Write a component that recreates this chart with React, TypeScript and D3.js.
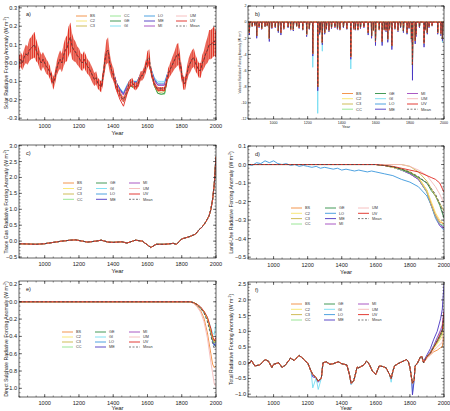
import React from "react";
import * as d3 from "d3";

type Pt = [number, number];

const FONT = "Liberation Sans, Arial, Helvetica, sans-serif";
const YEAR0 = 850;
const YEAR1 = 2000;

const modelColors: Record<string, string> = {
  BS: "#f28a3a",
  C2: "#f7e46b",
  C3: "#c9b646",
  CC: "#8ee38a",
  GE: "#2f8f45",
  GI: "#75dcf2",
  LO: "#3b97dd",
  ME: "#4a36c2",
  MI: "#a046bd",
  UM: "#f5b9b9",
  UV: "#e0271f",
  Mean: "#444444",
};

// ---- a) solar forcing: decadal mean, 11-yr cycle half-range, model spread over the grand minima
const solarYears = d3.range(850, 2001, 10);
const solarMean = [
  0.0, 0.02, 0.0, 0.03, 0.05,
  0.04, 0.07, 0.08, 0.09, 0.1, 0.07, 0.05, 0.02, 0.0, 0.02,
  0.0, -0.02, -0.03, -0.05, -0.08, -0.11, -0.08, -0.03, 0.0, 0.02,
  0.0, 0.04, 0.07, 0.08, 0.12, 0.14, 0.09, 0.07, 0.06, 0.04,
  0.03, 0.01, 0.0, 0.02, 0.0, -0.02, -0.03, -0.05, -0.07, -0.09,
  -0.08, -0.11, -0.12, -0.13, -0.08, 0.0, 0.06, 0.07, 0.0, -0.04,
  -0.06, -0.1, -0.13, -0.15, -0.17, -0.19, -0.2, -0.18, -0.15, -0.12,
  -0.11, -0.1, -0.12, -0.13, -0.12, -0.1, -0.07, -0.07, -0.05, -0.02,
  0.02, 0.03, -0.04, -0.08, -0.11, -0.13, -0.14, -0.14, -0.14, -0.14,
  -0.14, -0.11, -0.06, -0.04, -0.02, 0.0, 0.02, 0.04, 0.05, 0.0,
  -0.06, -0.11, -0.11, -0.06, -0.02, 0.0, 0.02, 0.03, 0.0, -0.02,
  -0.04, -0.04, 0.0, 0.02, 0.05, 0.07, 0.1, 0.1, 0.11, 0.12,
  0.1,
];
const solarCycle = [
  0.04, 0.04, 0.04, 0.045, 0.05,
  0.05, 0.06, 0.06, 0.065, 0.07, 0.06, 0.05, 0.05, 0.045, 0.04,
  0.04, 0.04, 0.035, 0.035, 0.03, 0.035, 0.035, 0.04, 0.045, 0.05,
  0.05, 0.06, 0.065, 0.07, 0.08, 0.08, 0.07, 0.06, 0.055, 0.05,
  0.05, 0.045, 0.045, 0.045, 0.045, 0.04, 0.04, 0.04, 0.04, 0.035,
  0.035, 0.03, 0.03, 0.03, 0.04, 0.05, 0.065, 0.07, 0.05, 0.04,
  0.035, 0.03, 0.025, 0.02, 0.02, 0.015, 0.015, 0.015, 0.02, 0.02,
  0.02, 0.02, 0.02, 0.02, 0.02, 0.025, 0.025, 0.025, 0.03, 0.035,
  0.045, 0.045, 0.03, 0.02, 0.015, 0.01, 0.01, 0.01, 0.01, 0.01,
  0.01, 0.02, 0.03, 0.035, 0.04, 0.045, 0.05, 0.06, 0.06, 0.05,
  0.04, 0.035, 0.035, 0.04, 0.045, 0.05, 0.05, 0.05, 0.045, 0.04,
  0.04, 0.04, 0.045, 0.05, 0.06, 0.07, 0.08, 0.08, 0.08, 0.08,
  0.07,
];
const solarSpreadYears = [1400, 1420, 1440, 1460, 1480, 1500, 1520, 1540, 1560, 1580, 1600, 1620, 1640, 1660, 1680, 1700, 1720, 1740];
const solarSpread: Record<string, number[]> = {
  GI: [-0.05, -0.11, -0.14, -0.16, -0.12, -0.09, -0.1, -0.1, -0.06, -0.04, 0.02, -0.03, -0.08, -0.1, -0.1, -0.1, -0.05, -0.02],
  LO: [-0.05, -0.11, -0.14, -0.165, -0.125, -0.09, -0.1, -0.1, -0.06, -0.04, 0.02, -0.03, -0.085, -0.11, -0.11, -0.11, -0.05, -0.02],
  ME: [-0.05, -0.11, -0.145, -0.17, -0.13, -0.095, -0.105, -0.105, -0.06, -0.04, 0.02, -0.035, -0.09, -0.12, -0.12, -0.12, -0.05, -0.02],
  MI: [-0.055, -0.115, -0.15, -0.175, -0.13, -0.1, -0.11, -0.11, -0.065, -0.045, 0.02, -0.035, -0.095, -0.12, -0.12, -0.12, -0.055, -0.02],
  UM: [-0.06, -0.125, -0.165, -0.19, -0.145, -0.105, -0.115, -0.115, -0.07, -0.05, 0.02, -0.04, -0.105, -0.135, -0.14, -0.135, -0.06, -0.02],
  C2: [-0.06, -0.125, -0.165, -0.19, -0.145, -0.11, -0.12, -0.12, -0.07, -0.05, 0.02, -0.04, -0.11, -0.14, -0.14, -0.14, -0.06, -0.02],
  BS: [-0.065, -0.13, -0.175, -0.2, -0.15, -0.11, -0.12, -0.12, -0.07, -0.05, 0.02, -0.04, -0.11, -0.14, -0.14, -0.14, -0.06, -0.02],
  C3: [-0.065, -0.13, -0.175, -0.2, -0.155, -0.12, -0.13, -0.13, -0.075, -0.055, 0.02, -0.045, -0.12, -0.155, -0.16, -0.155, -0.065, -0.02],
  GE: [-0.065, -0.135, -0.18, -0.21, -0.16, -0.125, -0.135, -0.135, -0.08, -0.055, 0.02, -0.045, -0.125, -0.165, -0.17, -0.165, -0.07, -0.02],
  CC: [-0.065, -0.135, -0.18, -0.21, -0.16, -0.125, -0.135, -0.135, -0.08, -0.055, 0.02, -0.045, -0.125, -0.165, -0.17, -0.17, -0.07, -0.02],
  UV: [-0.07, -0.15, -0.2, -0.235, -0.17, -0.12, -0.13, -0.13, -0.075, -0.05, 0.02, -0.045, -0.12, -0.15, -0.15, -0.15, -0.065, -0.02],
};

// ---- b) volcanic forcing: eruption years and peak forcing (W m-2)
const eruptionYears = [
  858, 875, 890, 901, 915, 930, 950, 963, 975, 990, 1010, 1028, 1043, 1060, 1085, 1100, 1116, 1135, 1150, 1171,
  1194, 1210, 1230, 1259, 1270, 1276, 1286, 1300, 1310, 1325, 1340, 1360, 1375, 1389, 1410, 1430, 1453, 1470,
  1480, 1495, 1510, 1530, 1555, 1575, 1586, 1598, 1620, 1637, 1650, 1660, 1670, 1680, 1694, 1712, 1730, 1745,
  1762, 1783, 1795, 1809, 1815, 1831, 1836, 1856, 1883, 1890, 1902, 1912, 1930, 1963, 1982, 1991,
];
const eruptionMean = [
  -1.3, -0.5, -0.4, -1.7, -0.6, -0.8, -0.5, -0.4, -2.0, -0.7, -0.6, -1.1, -1.3, -0.8, -0.6, -0.9, -0.9, -0.5, -0.7, -0.9,
  -1.5, -0.8, -3.9, -8.0, -1.3, -1.0, -2.5, -1.3, -0.8, -1.0, -0.7, -0.6, -0.8, -0.9, -0.6, -0.8, -4.3, -0.8,
  -0.9, -0.9, -0.7, -0.6, -1.3, -1.7, -1.0, -2.4, -0.9, -2.4, -0.9, -1.0, -2.1, -0.9, -2.9, -0.8, -1.0, -0.6,
  -1.1, -1.3, -0.7, -2.1, -5.3, -2.3, -1.5, -0.6, -2.6, -0.9, -1.3, -0.6, -0.4, -1.3, -1.4, -2.0,
];
const eruptionME = [
  -1.6, -0.6, -0.5, -2.0, -0.7, -0.9, -0.6, -0.5, -2.4, -0.8, -0.7, -1.3, -1.6, -0.9, -0.7, -1.0, -1.1, -0.6, -0.8, -1.0,
  -1.8, -0.9, -4.2, -8.5, -1.5, -1.2, -2.8, -1.5, -0.9, -1.2, -0.8, -0.7, -0.9, -1.0, -0.7, -0.9, -4.6, -0.9,
  -1.0, -1.0, -0.8, -0.7, -1.6, -2.0, -1.1, -2.9, -1.0, -2.9, -1.0, -1.2, -2.5, -1.0, -3.4, -0.9, -1.2, -0.7,
  -1.3, -1.5, -0.8, -2.5, -7.2, -2.7, -1.8, -0.7, -3.1, -1.0, -1.5, -0.7, -0.5, -1.5, -1.7, -2.3,
];
const eruptionGI = [
  -1.4, -0.5, -0.4, -1.8, -0.6, -0.8, -0.5, -0.4, -2.1, -0.7, -0.6, -1.2, -1.4, -0.8, -0.6, -0.9, -1.0, -0.5, -0.7, -0.9,
  -1.6, -0.8, -5.6, -11.3, -1.6, -1.1, -3.6, -1.4, -0.8, -1.0, -0.7, -0.6, -0.8, -0.9, -0.6, -0.8, -5.8, -0.8,
  -0.9, -0.9, -0.7, -0.6, -1.4, -1.8, -1.0, -2.6, -0.9, -2.6, -0.9, -1.1, -2.3, -0.9, -3.1, -0.8, -1.0, -0.6,
  -1.2, -1.4, -0.7, -2.3, -6.5, -2.5, -1.6, -0.6, -2.8, -0.9, -1.4, -0.6, -0.4, -1.4, -1.5, -2.5,
];

// ---- c) trace gas forcing (all reconstructions share it)
const ghgYears = [850, 900, 950, 1000, 1050, 1100, 1150, 1180, 1220, 1250, 1300, 1330, 1370, 1400, 1450, 1480, 1530, 1570, 1600, 1620, 1650, 1700, 1750, 1770, 1800, 1820, 1850, 1880, 1900, 1920, 1940, 1950, 1960, 1970, 1980, 1990, 2000];
const ghgValues = [-0.08, -0.09, -0.1, -0.08, -0.04, 0.0, 0.03, 0.04, 0.0, -0.03, 0.0, 0.03, -0.03, -0.04, -0.02, -0.06, 0.03, 0.0, -0.12, -0.2, -0.1, -0.1, -0.07, -0.1, 0.07, 0.1, 0.15, 0.22, 0.35, 0.45, 0.6, 0.7, 0.8, 1.0, 1.3, 1.8, 2.65];

// ---- d) land-use forcing
const landLOYears = d3.range(850, 1576, 25);
const landLOEarly = [0.0, -0.005, 0.01, 0.005, 0.02, 0.01, 0.02, 0.005, 0.0, 0.005, -0.005, 0.0, -0.01, -0.005, -0.01, -0.015, -0.01, -0.02, -0.015, -0.02, -0.025, -0.02, -0.03, -0.025, -0.03, -0.035, -0.03, -0.035, -0.04, -0.035];
const landYears = [1600, 1650, 1700, 1750, 1800, 1850, 1900, 1925, 1950, 1975, 2000];
const landByModel: Record<string, number[]> = {
  BS: [0, -0.005, -0.015, -0.025, -0.04, -0.07, -0.14, -0.21, -0.27, -0.31, -0.32],
  C2: [0, -0.005, -0.015, -0.025, -0.04, -0.07, -0.14, -0.2, -0.26, -0.3, -0.32],
  C3: [0, 0, 0, 0, -0.01, -0.04, -0.09, -0.13, -0.17, -0.21, -0.25],
  CC: [0, -0.005, -0.015, -0.03, -0.045, -0.075, -0.15, -0.22, -0.28, -0.32, -0.33],
  GE: [0, -0.005, -0.012, -0.025, -0.045, -0.07, -0.1, -0.14, -0.17, -0.22, -0.29],
  LO: [-0.04, -0.05, -0.06, -0.08, -0.095, -0.12, -0.17, -0.22, -0.29, -0.33, -0.355],
  ME: [0, -0.005, -0.015, -0.03, -0.05, -0.08, -0.15, -0.22, -0.28, -0.32, -0.34],
  MI: [0, -0.005, -0.015, -0.03, -0.05, -0.08, -0.15, -0.22, -0.28, -0.33, -0.345],
  UM: [0, 0, 0, 0, -0.01, -0.03, -0.06, -0.09, -0.12, -0.16, -0.21],
  UV: [0, -0.005, -0.01, -0.02, -0.03, -0.04, -0.06, -0.07, -0.08, -0.1, -0.15],
  Mean: [0, -0.005, -0.012, -0.025, -0.04, -0.065, -0.1, -0.13, -0.16, -0.21, -0.28],
};

// ---- e) direct sulphate forcing (zero before 1850)
const sulphateYears = [1850, 1870, 1890, 1910, 1930, 1950, 1970, 1980, 1990, 2000];
const sulphateByModel: Record<string, number[]> = {
  BS: [0, -0.02, -0.05, -0.1, -0.19, -0.36, -0.6, -0.72, -0.76, -0.74],
  C2: [0, -0.01, -0.03, -0.065, -0.11, -0.19, -0.33, -0.41, -0.46, -0.43],
  C3: [0, -0.01, -0.03, -0.065, -0.115, -0.2, -0.34, -0.42, -0.47, -0.44],
  CC: [0, -0.01, -0.03, -0.07, -0.12, -0.2, -0.35, -0.43, -0.48, -0.45],
  GE: [0, -0.01, -0.03, -0.07, -0.115, -0.2, -0.34, -0.43, -0.47, -0.44],
  GI: [0, -0.01, -0.03, -0.06, -0.11, -0.18, -0.3, -0.36, -0.38, -0.25],
  LO: [0, -0.01, -0.03, -0.07, -0.12, -0.2, -0.35, -0.45, -0.51, -0.49],
  ME: [0, -0.01, -0.03, -0.07, -0.12, -0.2, -0.34, -0.44, -0.5, -0.46],
  MI: [0, -0.01, -0.03, -0.065, -0.11, -0.19, -0.33, -0.42, -0.46, -0.42],
  UM: [0, -0.02, -0.06, -0.12, -0.23, -0.42, -0.7, -0.82, -0.95, -0.98],
  UV: [0, -0.01, -0.03, -0.06, -0.11, -0.18, -0.31, -0.4, -0.45, -0.41],
  Mean: [0, -0.012, -0.035, -0.075, -0.13, -0.23, -0.39, -0.48, -0.54, -0.5],
};

// ---- f) total forcing
const totalYears = [
  850, 870, 890, 920, 950, 970, 990, 1000, 1030, 1050, 1070, 1100, 1120, 1150, 1170, 1190, 1200, 1220, 1230, 1250,
  1260, 1280, 1290, 1310, 1330, 1350, 1380, 1400, 1430, 1445, 1455, 1470, 1480, 1490, 1500, 1530, 1545, 1560, 1580,
  1590, 1600, 1620, 1640, 1660, 1680, 1690, 1700, 1710, 1730, 1760, 1780, 1790, 1800, 1810, 1815, 1825, 1830, 1840,
  1850, 1860, 1870,
];
const totalMean = [
  -0.05, 0.07, -0.1, -0.07, 0.1, 0.05, -0.15, -0.05, 0.0, -0.15, -0.07, 0.15, 0.07, 0.23, 0.15, 0.03, 0.0, -0.27, -0.37, -0.48,
  -0.58, -0.5, 0.0, 0.03, -0.05, -0.03, 0.03, -0.03, -0.07, -0.37, -0.65, -0.58, -0.37, -0.14, -0.16, -0.07, 0.05, -0.03, -0.27,
  -0.32, -0.37, -0.1, -0.12, -0.16, -0.37, -0.5, -0.27, -0.1, -0.03, 0.05, 0.1, 0.05, -0.15, -0.5, -0.65, -0.55, -0.1, -0.05,
  0.05, 0.17, 0.2,
];
const totalDipYears = [1230, 1262, 1455, 1690, 1815];
const totalDipGI = [-0.8, -0.85, -0.7, -0.62, -0.95];
const totalDipME = [-0.45, -0.62, -0.68, -0.52, -1.02];
const totalTailYears = [1880, 1900, 1920, 1940, 1960, 1980, 1990, 2000];
const totalTail: Record<string, number[]> = {
  BS: [0.0, 0.15, 0.25, 0.35, 0.4, 0.48, 0.5, 0.85],
  C2: [0.0, 0.15, 0.28, 0.45, 0.6, 0.75, 0.85, 1.3],
  C3: [0.0, 0.18, 0.3, 0.48, 0.65, 0.85, 0.95, 1.35],
  CC: [0.0, 0.2, 0.32, 0.52, 0.7, 0.9, 1.0, 1.45],
  GE: [0.0, 0.18, 0.3, 0.5, 0.65, 0.85, 0.95, 1.4],
  GI: [0.0, 0.2, 0.35, 0.55, 0.8, 1.0, 1.1, 1.45],
  LO: [0.0, 0.18, 0.3, 0.5, 0.7, 0.9, 1.05, 1.5],
  ME: [0.05, 0.25, 0.45, 0.75, 1.0, 1.4, 1.7, 2.5],
  MI: [0.0, 0.2, 0.35, 0.55, 0.8, 1.05, 1.2, 1.7],
  UM: [0.0, 0.15, 0.25, 0.4, 0.5, 0.6, 0.65, 1.1],
  UV: [0.0, 0.2, 0.3, 0.5, 0.7, 0.95, 1.05, 1.6],
  Mean: [0.0, 0.2, 0.3, 0.5, 0.7, 0.9, 1.0, 1.5],
};

// legend layouts
const legend4x3 = [["BS", "C2", "C3"], ["CC", "GE", "GI"], ["LO", "ME", "MI"], ["UM", "UV", "Mean"]];
const legend3x4 = [["BS", "C2", "C3", "CC"], ["GE", "GI", "LO", "ME"], ["MI", "UM", "UV", "Mean"]];
const legendLand = [["BS", "C2", "C3", "CC"], ["GE", "LO", "ME", "MI"], ["UM", "UV", "Mean"]];

const zip = (xs: number[], ys: number[]): Pt[] => xs.map((x, i) => [x, ys[i]] as Pt);

interface Series {
  name: string;
  pts: Pt[];
  width?: number;
}

interface PanelProps {
  id: string;
  x0: number;
  x1: number;
  y0: number;
  y1: number;
  yDomain: [number, number];
  yTicks: number[];
  yLabels: string[];
  yMinor: number;
  yTitle: string;
  titleX: number;
  tag: string;
  series: Series[];
  band?: [number, number, number][];
  overlay?: Series[];
  legendCols: string[][];
  legendX: number[];
  legendY: number[];
  tiny?: boolean;
}

function Panel(p: PanelProps) {
  const x = d3.scaleLinear().domain([YEAR0, YEAR1]).range([p.x0, p.x1]);
  const y = d3.scaleLinear().domain(p.yDomain).range([p.y1, p.y0]);
  const line = d3.line<Pt>().x((d) => x(d[0])).y((d) => y(d[1]));
  const area = d3
    .area<[number, number, number]>()
    .x((d) => x(d[0]))
    .y0((d) => y(d[1] - d[2]))
    .y1((d) => y(d[1] + d[2]));

  const tickFs = p.tiny ? 3.6 : 5.6;
  const titleFs = p.tiny ? 3.2 : 5.1;
  const yearFs = p.tiny ? 4 : 6;
  const legFs = p.tiny ? 4 : 3.8;
  const legLen = 11;

  const xMajor = d3.range(1000, 2001, 200);
  const xMinor = d3.range(850, 2001, 50);
  const yMinor = d3
    .range(Math.ceil(p.yDomain[0] / p.yMinor - 1e-6), Math.floor(p.yDomain[1] / p.yMinor + 1e-6) + 1)
    .map((k) => k * p.yMinor);

  const clipId = `clip-${p.id}`;
  const patId = `cycle-${p.id}`;
  const stroke = "#222";
  // one stripe per 11-year solar cycle
  const cycleW = x(YEAR0 + 11) - x(YEAR0);
  const yearY = Math.min(p.y1 + (p.tiny ? 9 : 14.5), 410);

  const drawLine = (s: Series, key: string) => (
    <path
      key={key}
      d={line(s.pts) || ""}
      fill="none"
      stroke={modelColors[s.name]}
      strokeWidth={s.width ?? (s.name === "Mean" ? 0.8 : 0.9)}
      strokeDasharray={s.name === "Mean" ? "2.5,1.8" : undefined}
      strokeLinejoin="round"
    />
  );

  return (
    <g>
      <defs>
        <clipPath id={clipId}>
          <rect x={p.x0} y={p.y0} width={p.x1 - p.x0} height={p.y1 - p.y0} />
        </clipPath>
        <pattern id={patId} patternUnits="userSpaceOnUse" x={p.x0} y={0} width={cycleW} height={4}>
          <rect width={cycleW} height={4} fill="#f3b2a2" />
          <rect x={0} width={cycleW * 0.55} height={4} fill="#e2281d" />
        </pattern>
      </defs>

      <g clipPath={`url(#${clipId})`}>
        {p.series.map((s) => drawLine(s, s.name))}
        {p.band && <path d={area(p.band) || ""} fill={`url(#${patId})`} stroke="none" />}
        {p.overlay && p.overlay.map((s) => drawLine(s, `o${s.name}`))}
      </g>

      {/* frame with inward ticks on all four sides */}
      <rect x={p.x0} y={p.y0} width={p.x1 - p.x0} height={p.y1 - p.y0} fill="none" stroke={stroke} strokeWidth={0.7} />
      {xMinor.map((v) => (
        <g key={`xm${v}`}>
          <line x1={x(v)} x2={x(v)} y1={p.y1} y2={p.y1 - 1.5} stroke={stroke} strokeWidth={0.5} />
          <line x1={x(v)} x2={x(v)} y1={p.y0} y2={p.y0 + 1.5} stroke={stroke} strokeWidth={0.5} />
        </g>
      ))}
      {xMajor.map((v) => (
        <g key={`xM${v}`}>
          <line x1={x(v)} x2={x(v)} y1={p.y1} y2={p.y1 - 3} stroke={stroke} strokeWidth={0.6} />
          <line x1={x(v)} x2={x(v)} y1={p.y0} y2={p.y0 + 3} stroke={stroke} strokeWidth={0.6} />
          <text
            x={x(v)}
            y={p.y1 + (p.tiny ? 5 : 8)}
            fontSize={tickFs}
            textAnchor="middle"
            fontFamily={FONT}
            fill="#222"
          >
            {v}
          </text>
        </g>
      ))}
      {yMinor.map((v, i) => (
        <g key={`ym${i}`}>
          <line x1={p.x0} x2={p.x0 + 1.5} y1={y(v)} y2={y(v)} stroke={stroke} strokeWidth={0.5} />
          <line x1={p.x1} x2={p.x1 - 1.5} y1={y(v)} y2={y(v)} stroke={stroke} strokeWidth={0.5} />
        </g>
      ))}
      {p.yTicks.map((v, i) => (
        <g key={`yM${i}`}>
          <line x1={p.x0} x2={p.x0 + 3} y1={y(v)} y2={y(v)} stroke={stroke} strokeWidth={0.6} />
          <line x1={p.x1} x2={p.x1 - 3} y1={y(v)} y2={y(v)} stroke={stroke} strokeWidth={0.6} />
          <text
            x={p.x0 - (p.tiny ? 1.5 : 2)}
            y={y(v) + tickFs * 0.36}
            fontSize={tickFs}
            textAnchor="end"
            fontFamily={FONT}
            fill="#222"
          >
            {p.yLabels[i]}
          </text>
        </g>
      ))}

      <text x={(p.x0 + p.x1) / 2} y={yearY} fontSize={yearFs} textAnchor="middle" fontFamily={FONT} fill="#222">
        Year
      </text>
      <text
        transform={`translate(${p.titleX},${(p.y0 + p.y1) / 2}) rotate(-90)`}
        fontSize={titleFs}
        textAnchor="middle"
        fontFamily={FONT}
        fill="#222"
      >
        {p.yTitle} (W m
        <tspan dy={-titleFs * 0.35} fontSize={titleFs * 0.7}>
          -2
        </tspan>
        <tspan dy={titleFs * 0.35}>)</tspan>
      </text>
      <text x={p.x0 + 7} y={p.y0 + 10} fontSize={5.6} fontFamily={FONT} fill="#222">
        {p.tag}
      </text>

      {p.legendCols.map((col, ci) =>
        col.map((name, ri) => {
          const lx = p.legendX[ci];
          const ly = p.legendY[ri];
          return (
            <g key={`lg${name}`}>
              <line
                x1={lx}
                x2={lx + legLen}
                y1={ly}
                y2={ly}
                stroke={modelColors[name]}
                strokeWidth={name === "Mean" ? 0.7 : 0.9}
                strokeDasharray={name === "Mean" ? "2,1.5" : undefined}
              />
              <text x={lx + legLen + 3} y={ly + legFs * 0.35} fontSize={legFs} fontFamily={FONT} fill="#333">
                {name}
              </text>
            </g>
          );
        })
      )}
    </g>
  );
}

function spikes(years: number[], peaks: number[]): Pt[] {
  const pts: Pt[] = [[YEAR0, 0]];
  years.forEach((yr, i) => {
    pts.push([yr - 1, 0], [yr, peaks[i]], [yr + 2, 0]);
  });
  pts.push([YEAR1, 0]);
  return pts;
}

const drawOrder = ["GI", "LO", "ME", "MI", "CC", "GE", "C3", "C2", "BS", "UM", "UV"];

export default function App() {
  // a) solar
  const solarBefore = zip(solarYears, solarMean).filter((d) => d[0] < solarSpreadYears[0]);
  const solarAfter = zip(solarYears, solarMean).filter((d) => d[0] > solarSpreadYears[solarSpreadYears.length - 1]);
  const solarLine = (m: string): Pt[] => [...solarBefore, ...zip(solarSpreadYears, solarSpread[m]), ...solarAfter];
  const solarSeries: Series[] = drawOrder.filter((m) => m !== "UV").map((m) => ({ name: m, pts: solarLine(m) }));
  const solarTop: Series[] = [
    { name: "UV", pts: solarLine("UV") },
    { name: "Mean", pts: zip(solarYears, solarMean) },
  ];
  const solarBand = solarYears.map((yr, i) => [yr, solarMean[i], solarCycle[i]] as [number, number, number]);

  // b) volcanic
  const volcanoSeries: Series[] = [
    { name: "GI", pts: spikes(eruptionYears, eruptionGI) },
    { name: "ME", pts: spikes(eruptionYears, eruptionME) },
    ...["LO", "MI", "CC", "GE", "C3", "C2", "BS", "UM", "UV"].map((m) => ({ name: m, pts: spikes(eruptionYears, eruptionMean) })),
    { name: "Mean", pts: spikes(eruptionYears, eruptionMean), width: 0.7 },
  ];

  // c) trace gases
  const ghgSeries: Series[] = [...drawOrder, "Mean"].map((m) => ({ name: m, pts: zip(ghgYears, ghgValues) }));

  // d) land use
  const landSeries: Series[] = ["LO", "ME", "MI", "CC", "BS", "C2", "GE", "C3", "UM", "UV", "Mean"].map((m) => ({
    name: m,
    pts:
      m === "LO"
        ? [...zip(landLOYears, landLOEarly), ...zip(landYears, landByModel.LO)]
        : [[YEAR0, 0] as Pt, ...zip(landYears, landByModel[m])],
  }));

  // e) sulphate
  const sulphateSeries: Series[] = [...drawOrder, "Mean"].map((m) => ({
    name: m,
    pts: [[YEAR0, 0] as Pt, ...zip(sulphateYears, sulphateByModel[m])],
  }));

  // f) total
  const totalEarly = zip(totalYears, totalMean);
  const withDips = (dips: number[]): Pt[] =>
    [...totalEarly.filter((d) => !totalDipYears.some((y) => Math.abs(y - d[0]) < 4)), ...zip(totalDipYears, dips)].sort(
      (a, b) => a[0] - b[0]
    );
  const totalSeries: Series[] = [...drawOrder, "Mean"].map((m) => ({
    name: m,
    pts: [
      ...(m === "GI" ? withDips(totalDipGI) : m === "ME" ? withDips(totalDipME) : totalEarly),
      ...zip(totalTailYears, totalTail[m]),
    ],
  }));

  const fmt1 = d3.format(".1f");

  return (
    <svg
      width={450}
      height={411}
      viewBox="0 0 450 411"
      style={{ position: "absolute", left: 0, top: 0, background: "#fff" }}
    >
      <rect width={450} height={411} fill="#fff" />
      <Panel
        id="a"
        x0={19}
        x1={216}
        y0={6}
        y1={120}
        yDomain={[-0.31, 0.31]}
        yTicks={[0.3, 0.2, 0.1, 0, -0.1, -0.2, -0.3]}
        yLabels={["0.3", "0.2", "0.1", "-0.0", "-0.1", "-0.2", "-0.3"]}
        yMinor={0.02}
        yTitle="Solar Radiative Forcing Anomaly"
        titleX={7.5}
        tag="a)"
        series={solarSeries}
        band={solarBand}
        overlay={solarTop}
        legendCols={legend4x3}
        legendX={[76, 110, 144, 176]}
        legendY={[16, 21, 26]}
      />
      <Panel
        id="b"
        x0={248}
        x1={444}
        y0={6}
        y1={119}
        yDomain={[-12, 2]}
        yTicks={[2, 0, -2, -4, -6, -8, -10, -12]}
        yLabels={["2", "0", "-2", "-4", "-6", "-8", "-10", "-12"]}
        yMinor={0.5}
        yTitle="Volcanic Radiative Forcing Anomaly"
        titleX={241}
        tag="b)"
        series={volcanoSeries}
        legendCols={legend3x4}
        legendX={[342, 375, 407]}
        legendY={[93.5, 98.7, 104, 109.2]}
        tiny
      />
      <Panel
        id="c"
        x0={19}
        x1={216}
        y0={145}
        y1={258}
        yDomain={[-0.53, 3.02]}
        yTicks={[3, 2.5, 2, 1.5, 1, 0.5, 0, -0.5]}
        yLabels={[3, 2.5, 2, 1.5, 1, 0.5, 0, -0.5].map(fmt1)}
        yMinor={0.1}
        yTitle="Trace Gas Radiative Forcing Anomaly"
        titleX={7.5}
        tag="c)"
        series={ghgSeries}
        legendCols={legend3x4}
        legendX={[63, 96, 129]}
        legendY={[183, 188.5, 194, 199.3]}
      />
      <Panel
        id="d"
        x0={248}
        x1={444}
        y0={146}
        y1={259}
        yDomain={[-0.51, 0.1]}
        yTicks={[0.1, 0, -0.1, -0.2, -0.3, -0.4, -0.5]}
        yLabels={[0.1, 0, -0.1, -0.2, -0.3, -0.4, -0.5].map(fmt1)}
        yMinor={0.02}
        yTitle="Land-Use Radiative Forcing Anomaly"
        titleX={232.5}
        tag="d)"
        series={landSeries}
        legendCols={legendLand}
        legendX={[291, 325, 358]}
        legendY={[208, 213.3, 218.6, 224]}
      />
      <Panel
        id="e"
        x0={19}
        x1={216}
        y0={281}
        y1={397}
        yDomain={[-1.1, 0.24]}
        yTicks={[0.2, 0, -0.2, -0.4, -0.6, -0.8, -1.0]}
        yLabels={[0.2, 0, -0.2, -0.4, -0.6, -0.8, -1.0].map(fmt1)}
        yMinor={0.05}
        yTitle="Direct Sulphate Radiative Forcing Anomaly"
        titleX={7.5}
        tag="e)"
        series={sulphateSeries}
        legendCols={legend3x4}
        legendX={[62, 95, 129]}
        legendY={[332, 337, 342, 347]}
      />
      <Panel
        id="f"
        x0={248}
        x1={444}
        y0={282}
        y1={397}
        yDomain={[-1.09, 2.57]}
        yTicks={[2.5, 2, 1.5, 1, 0.5, 0, -0.5, -1.0]}
        yLabels={[2.5, 2, 1.5, 1, 0.5, 0, -0.5, -1.0].map(fmt1)}
        yMinor={0.1}
        yTitle="Total Radiative Forcing Anomaly"
        titleX={232.5}
        tag="f)"
        series={totalSeries}
        legendCols={legend3x4}
        legendX={[291, 324, 358]}
        legendY={[304, 309.3, 314.6, 320]}
      />
    </svg>
  );
}
